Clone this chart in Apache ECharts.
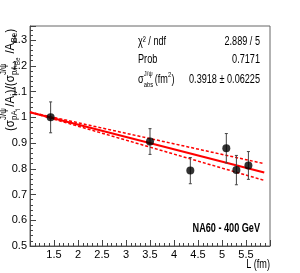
<!DOCTYPE html>
<html><head><meta charset="utf-8">
<script src="https://cdn.jsdelivr.net/npm/echarts@6/dist/echarts.min.js"></script>
<style>html,body{margin:0;padding:0;background:#fff}#c{width:300px;height:273px}</style>
</head><body><div id="c"></div>
<script>
// Data
const L_values = [1.43, 3.50, 4.34, 5.09, 5.30, 5.55];
const ratio_values = [1.00, 0.906, 0.793, 0.880, 0.795, 0.813];
const ratio_errors = [0.060, 0.050, 0.051, 0.057, 0.057, 0.054];
const fit_x = [1.0, 5.88];
const fit_central = [1.020, 0.786];
const fit_upper = [1.020, 0.820];
const fit_lower = [1.020, 0.755];
const stats_labels = ['χ² / ndf', 'Prob'];
const stats_values = ['2.889 / 5', '0.7171', '0.3918 ± 0.06225'];
const x_ticks = { min: 1.0, max: 6.0, interval: 0.5 };
const y_ticks = { min: 0.5, max: 1.355, interval: 0.1 };

const FONT = "'Liberation Sans', Arial, sans-serif";
const SX = 0.73; // horizontal text condensation seen in the reference
const points = L_values.map((x, i) => [x, ratio_values[i]]);
const errs = L_values.map((x, i) => [x, ratio_values[i] - ratio_errors[i], ratio_values[i] + ratio_errors[i]]);
const line = (ys) => fit_x.map((x, i) => [x, ys[i]]);

const chart = echarts.init(document.getElementById('c'), null, { renderer: 'canvas' });

function t(text, x, y, size, extra) {
  return Object.assign({ type: 'text', x: x, y: y,
    style: { text: text, fontSize: size, fontFamily: FONT, fill: '#000', verticalAlign: 'middle', align: 'left' } }, extra || {});
}
function txt(text, x, y, size, align, weight) {
  const e = t(text, x, y, size, { scaleX: SX });
  e.style.align = align || 'left';
  if (weight) e.style.fontWeight = weight;
  return e;
}

function ylabelGroup() {
  return {
    type: 'group', x: 10, y: 131, rotation: Math.PI / 2, scaleX: 0.88,
    children: [
      t('(σ', 0, 0, 13),
      t('J/ψ', 12.5, -6, 9),
      t('pA', 12.5, 5, 9),
      t('i', 24, 8, 7),
      t('/A', 27.5, 0, 13),
      t('i', 40, 5, 9),
      t(')/(σ', 43, 0, 13),
      t('J/ψ', 63.5, -6, 9),
      t('pA', 63.5, 5, 9),
      t('Be', 75, 8, 7),
      t('/A', 88, 0, 13),
      t('Be', 100.5, 5, 9),
      t(')', 112, 0, 13)
    ]
  };
}

function sigmaGroup() {
  return {
    type: 'group', x: 138, y: 80, scaleX: SX,
    children: [
      t('σ', 0, 0, 12.5),
      t('J/ψ', 8, -6, 8),
      t('abs', 8, 5, 8),
      t('(fm', 23, 0, 12.5),
      t('2', 41, -5, 8),
      t(')', 46, 0, 12.5)
    ]
  };
}

const option = {
  animation: false,
  grid: { left: 30, right: 30, top: 26, bottom: 27, show: true, borderColor: '#666', borderWidth: 1, backgroundColor: 'transparent' },
  xAxis: {
    type: 'value', min: x_ticks.min, max: x_ticks.max, interval: x_ticks.interval,
    axisLine: { show: true, onZero: false, lineStyle: { color: '#555', width: 1 } },
    axisTick: { show: true, inside: true, length: 6, lineStyle: { color: '#444' } },
    minorTick: { show: true, splitNumber: 5, length: 3, lineStyle: { color: '#444' } },
    splitLine: { show: false },
    axisLabel: { showMinLabel: false, showMaxLabel: false, color: '#000', fontSize: 11, fontFamily: FONT, margin: 3 }
  },
  yAxis: {
    type: 'value', min: y_ticks.min, max: y_ticks.max, interval: y_ticks.interval,
    axisLine: { show: true, onZero: false, lineStyle: { color: '#555', width: 1 } },
    axisTick: { show: true, inside: true, length: 6, lineStyle: { color: '#444' } },
    minorTick: { show: true, splitNumber: 5, length: 3, lineStyle: { color: '#444' } },
    splitLine: { show: false },
    axisLabel: { showMaxLabel: false, color: '#000', fontSize: 11, fontFamily: FONT, margin: 3,
      formatter: v => (Math.abs(v * 10 - Math.round(v * 10)) < 1e-6 ? String(Math.round(v * 10) / 10) : '') }
  },
  graphic: [
    ylabelGroup(),
    sigmaGroup(),
    txt('L (fm)', 270, 265, 12.5, 'right'),
    txt('NA60 - 400 GeV', 260, 229, 12.5, 'right', 'bold'),
    txt(stats_labels[0], 138, 42, 12.5, 'left'),
    txt(stats_labels[1], 138, 60, 12.5, 'left'),
    txt(stats_values[0], 260, 42, 12.5, 'right'),
    txt(stats_values[1], 260, 60, 12.5, 'right'),
    txt(stats_values[2], 260, 80, 12.5, 'right')
  ],
  series: [
    { type: 'line', data: line(fit_upper), symbol: 'none', lineStyle: { color: '#ff0000', width: 1.5, type: [3, 2] }, z: 3 },
    { type: 'line', data: line(fit_lower), symbol: 'none', lineStyle: { color: '#ff0000', width: 1.5, type: [3, 2] }, z: 3 },
    { type: 'line', data: line(fit_central), symbol: 'none', lineStyle: { color: '#ff0000', width: 2 }, z: 3 },
    {
      type: 'custom', data: errs, z: 4,
      renderItem: function (params, api) {
        const x = api.value(0);
        const lo = api.coord([x, api.value(1)]);
        const hi = api.coord([x, api.value(2)]);
        const st = { stroke: '#444', lineWidth: 1 };
        return { type: 'group', children: [
          { type: 'line', shape: { x1: lo[0], y1: lo[1], x2: hi[0], y2: hi[1] }, style: st },
          { type: 'line', shape: { x1: lo[0] - 1.5, y1: lo[1], x2: lo[0] + 1.5, y2: lo[1] }, style: st },
          { type: 'line', shape: { x1: hi[0] - 1.5, y1: hi[1], x2: hi[0] + 1.5, y2: hi[1] }, style: st }
        ] };
      }
    },
    { type: 'scatter', data: points, symbol: 'circle', symbolSize: 8, itemStyle: { color: '#000' }, z: 5 }
  ]
};
chart.setOption(option);
</script>
</body></html>
